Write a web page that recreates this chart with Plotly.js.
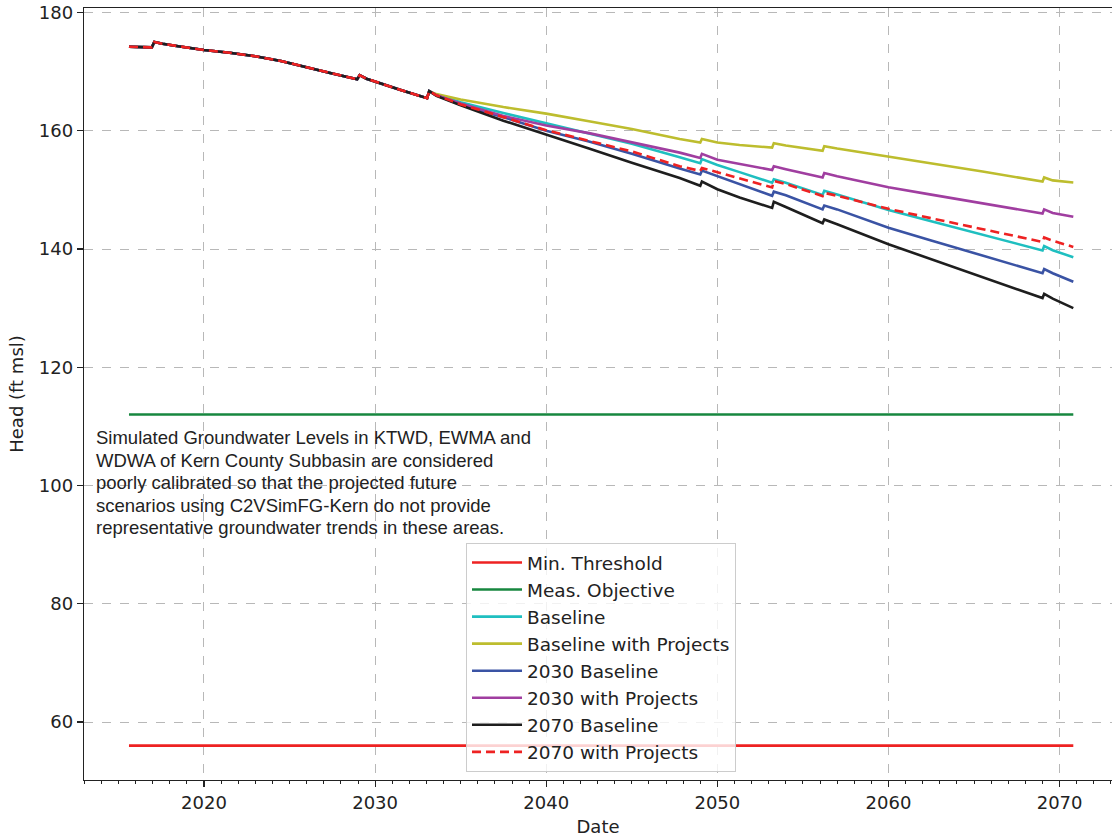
<!DOCTYPE html>
<html><head><meta charset="utf-8">
<script src="https://cdn.plot.ly/plotly-3.0.1.min.js"></script>
<style>html,body{margin:0;padding:0;background:#fff}#chart{width:1112px;height:840px}</style>
</head><body><div id="chart"></div>
<script>
// Shared historical/early simulated segment (all scenarios identical)
const commonDates = ["2015-08-15","2016-12-15","2017-02-05","2017-08-01","2018-07-01","2020-01-01","2021-07-01","2023-01-01","2024-07-01","2026-01-01","2027-07-01","2028-12-15","2029-02-05","2029-07-01","2030-01-01","2031-07-01","2033-01-15","2033-03-01"];
const commonHead  = [174.2,174.1,175.0,174.7,174.3,173.65,173.2,172.6,171.8,170.8,169.7,168.7,169.4,168.8,168.3,166.9,165.5,166.7];

// Scenario segment dates
const projDates = ["2033-08-01","2035-01-01","2037-07-01","2040-01-01","2042-07-01","2045-01-01","2047-10-20","2049-01-01","2049-02-05","2050-01-01","2051-04-20","2053-03-15","2053-04-20","2054-01-01","2056-02-25","2056-04-01","2057-01-01","2060-01-01","2062-07-01","2065-07-01","2069-01-01","2069-02-05","2069-08-07","2070-10-20"];

const baseline           = [166.1,164.8,163.0,161.3,159.6,157.8,155.5,154.5,155.2,154.2,153.0,151.2,151.8,151.2,149.15,149.85,149.2,146.6,144.7,142.4,139.75,140.5,139.8,138.6];
const baselineProjects   = [166.2,165.3,164.0,162.9,161.6,160.3,158.6,158.0,158.6,158.0,157.6,157.15,157.9,157.5,156.6,157.4,157.0,155.65,154.5,153.1,151.4,152.1,151.6,151.25];
const baseline2030       = [166.0,164.4,162.3,160.0,158.2,156.1,153.6,152.6,153.25,152.3,151.0,149.0,149.7,149.1,146.7,147.35,146.7,143.6,141.45,138.9,135.9,136.6,135.9,134.45];
const projects2030       = [166.0,164.6,162.5,160.9,159.6,158.1,156.3,155.4,156.1,155.1,154.4,153.35,154.0,153.5,152.1,152.85,152.3,150.45,149.2,147.7,146.0,146.7,146.1,145.45];
const baseline2070       = [165.9,164.3,161.7,159.4,157.0,154.6,152.0,150.7,151.4,150.1,148.7,146.95,148.0,147.1,144.35,145.0,144.2,140.8,138.3,135.2,131.7,132.4,131.6,130.0];
const projects2070       = [166.0,164.45,162.3,160.1,158.3,156.5,154.0,153.2,153.7,153.0,151.9,150.4,151.5,151.0,148.95,149.5,149.0,146.8,145.2,143.4,141.2,141.95,141.4,140.35];

// Thresholds
const thresholdDates = ["2015-08-15","2070-10-20"];
const minThreshold = 56;
const measObjective = 112;

const legendNames = ["Min. Threshold","Meas. Objective","Baseline","Baseline with Projects","2030 Baseline","2030 with Projects","2070 Baseline","2070 with Projects"];

const noteLines = [
  "Simulated Groundwater Levels in KTWD, EWMA and",
  "WDWA of Kern County Subbasin are considered",
  "poorly calibrated so that the projected future",
  "scenarios using C2VSimFG-Kern do not provide",
  "representative groundwater trends in these areas."
];

const allDates = commonDates.concat(projDates);
function scen(vals){ return commonHead.concat(vals); }

const LW = 2.6;
const traces = [
  {x: thresholdDates, y: [minThreshold, minThreshold], name: legendNames[0], line:{color:"#ee2222", width:LW}},
  {x: thresholdDates, y: [measObjective, measObjective], name: legendNames[1], line:{color:"#17873f", width:LW}},
  {x: allDates, y: scen(baseline), name: legendNames[2], line:{color:"#1fbfc0", width:LW}},
  {x: allDates, y: scen(baselineProjects), name: legendNames[3], line:{color:"#bdbd2e", width:LW}},
  {x: allDates, y: scen(baseline2030), name: legendNames[4], line:{color:"#3a53a4", width:LW}},
  {x: allDates, y: scen(projects2030), name: legendNames[5], line:{color:"#a03ea0", width:LW}},
  {x: allDates, y: scen(baseline2070), name: legendNames[6], line:{color:"#1e1e1e", width:LW}},
  {x: allDates, y: scen(projects2070), name: legendNames[7], line:{color:"#ee2222", width:LW, dash:"9px,5px"}}
].map(t => Object.assign({type:"scatter", mode:"lines", hoverinfo:"skip"}, t));

const FONT = "DejaVu Sans, sans-serif";
const annotations = noteLines.map((t, i) => ({
  text: t, xref: "paper", yref: "paper", x: 0.0095, y: (780 - 425 - i*22.6)/772,
  xanchor: "left", yanchor: "top", showarrow: false, align: "left",
  font: {family: "Liberation Sans, Arial, sans-serif", size: 18.5, color: "#222"}
}));

const layout = {
  width: 1112, height: 840,
  margin: {l: 84, r: 0, t: 8, b: 60},
  paper_bgcolor: "#fff", plot_bgcolor: "#fff",
  font: {family: FONT, size: 18, color: "#222"},
  showlegend: true,
  legend: {
    x: 0.3716, y: 0.307, xanchor: "left", yanchor: "top",
    itemwidth: 50,
    bgcolor: "rgba(255,255,255,0.8)", bordercolor: "#cccccc", borderwidth: 1,
    font: {family: FONT, size: 18.5, color: "#222"}
  },
  xaxis: {
    type: "date", range: ["2012-12-28", "2073-01-23"],
    tick0: "2020-01-01", dtick: "M120", tickformat: "%Y",
    ticks: "outside", ticklen: 6, tickwidth: 1.2, tickcolor: "#222",
    minor: {dtick: "M12", ticks: "outside", ticklen: 3, tickwidth: 1, tickcolor: "#222", showgrid: false},
    showline: true, linecolor: "#222", linewidth: 1.3, mirror: true,
    showgrid: true, gridcolor: "#b8b8b8", griddash: "dash", gridwidth: 1,
    zeroline: false,
    tickfont: {family: FONT, size: 18, color: "#222"},
    title: {text: "Date", font: {family: FONT, size: 18, color: "#222"}, standoff: 8}
  },
  yaxis: {
    range: [50.19, 180.76], tick0: 60, dtick: 20,
    ticks: "outside", ticklen: 6, tickwidth: 1.2, tickcolor: "#222",
    showline: true, linecolor: "#222", linewidth: 1.3,
    showgrid: true, gridcolor: "#b8b8b8", griddash: "dash", gridwidth: 1,
    zeroline: false,
    tickfont: {family: FONT, size: 18, color: "#222"},
    title: {text: "Head (ft msl)", font: {family: FONT, size: 18, color: "#222"}, standoff: 10}
  },
  annotations: annotations
};

Plotly.newPlot("chart", traces, layout, {staticPlot: true, displayModeBar: false});
</script>
</body></html>
